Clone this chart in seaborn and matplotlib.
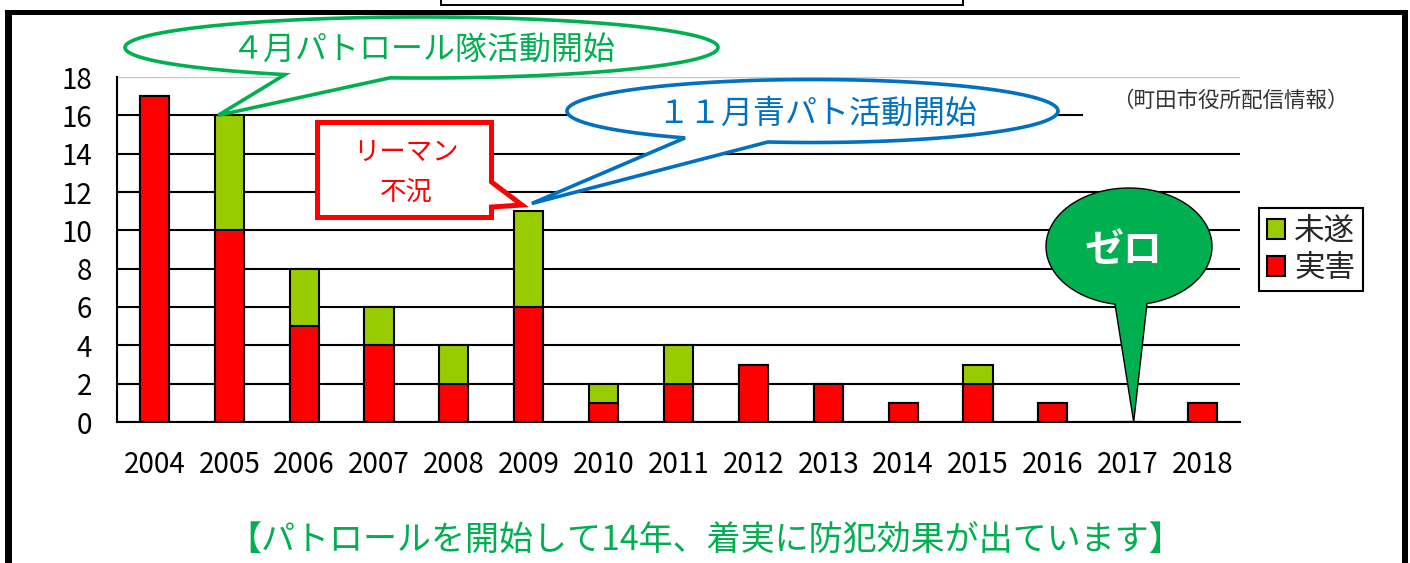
import numpy as np
import pandas as pd
import matplotlib
matplotlib.use("Agg")
import matplotlib.pyplot as plt
import seaborn as sns
from matplotlib.patches import Polygon, Rectangle
from matplotlib.transforms import Affine2D

# ---------------- data ----------------
years = ["2004", "2005", "2006", "2007", "2008", "2009", "2010", "2011",
         "2012", "2013", "2014", "2015", "2016", "2017", "2018"]
jitsugai = [17, 10, 5, 4, 2, 6, 1, 2, 3, 2, 1, 2, 1, 0, 1]   # 実害
misui = [0, 6, 3, 2, 2, 5, 1, 2, 0, 0, 0, 1, 0, 0, 0]        # 未遂
series_labels = ["未遂", "実害"]
yticks = list(range(0, 19, 2))
note_green = "４月パトロール隊活動開始"
note_blue = "１１月青パト活動開始"
note_red = ["リーマン", "不況"]
note_zero = "ゼロ"
source_text = "（町田市役所配信情報）"
bottom_text = "【パトロールを開始して14年、着実に防犯効果が出ています】"

# ---------------- style ----------------
sns.set_style("white")
plt.rcParams["font.family"] = ["Noto Sans CJK JP", "DejaVu Sans"]

RED = "#FF0000"
LGREEN = "#99CC00"
GREEN = "#00B050"
BLUE = "#0070C0"

W, H = 1410, 563
fig = plt.figure(figsize=(W / 100, H / 100), dpi=100)
fig.patch.set_facecolor("white")
ax = fig.add_axes([117 / W, (H - 422) / H, (1240 - 117) / W, (422 - 77) / H])

df = pd.DataFrame({"year": years, "実害": jitsugai, "未遂": misui})
df["total"] = df["実害"] + df["未遂"]

sns.barplot(data=df, x="year", y="total", color=LGREEN, saturation=1,
            width=0.39, edgecolor="black", linewidth=1.5, label=series_labels[0], ax=ax)
sns.barplot(data=df, x="year", y="実害", color=RED, saturation=1,
            width=0.39, edgecolor="black", linewidth=1.5, label=series_labels[1], ax=ax)

ax.set_xlim(-0.5, len(years) - 0.5)
ax.set_ylim(0, 18)
ax.set_yticks(yticks)
ax.set_xlabel("")
ax.set_ylabel("")
ax.set_axisbelow(True)
ax.yaxis.grid(True, color="black", linewidth=1.5)
ax.xaxis.grid(False)
gl = ax.get_ygridlines()
gl[-1].set_color("#c8c8c8")
gl[-1].set_linewidth(1.0)
for s in ["top", "right"]:
    ax.spines[s].set_visible(False)
for s in ["left", "bottom"]:
    ax.spines[s].set_color("black")
    ax.spines[s].set_linewidth(1.5)
ax.set_xticks(np.arange(-0.5, len(years), 1), minor=True)
ax.tick_params(axis="x", which="major", length=0, pad=20, labelsize=20, colors="black")
ax.tick_params(axis="x", which="minor", direction="in", length=7, width=1.5, color="black")
ax.tick_params(axis="y", which="major", direction="in", length=5, width=1.5,
               pad=18, labelsize=20, colors="black")
ax.set_facecolor("white")

leg = ax.legend(loc="upper left", bbox_to_anchor=(1259 / W, 1 - 208 / H),
                bbox_transform=fig.transFigure, fontsize=22, frameon=True,
                fancybox=False, framealpha=1, edgecolor="black", borderaxespad=0,
                handlelength=0.6, handleheight=0.6, handletextpad=0.3,
                borderpad=0.25, labelspacing=0.2)
leg.get_frame().set_linewidth(1.5)

# ---------------- annotation helpers (image pixel coords, y down) ----------------
pix = Affine2D().scale(1 / W, -1 / H).translate(0, 1) + fig.transFigure


def to_pix(x, y):
    d = ax.transData.transform((x, y))
    return d[0], H - d[1]


def bubble(cx, cy, a, b, xl, xr, tip, fc, ec, lw):
    tl = np.arccos(np.clip((xl - cx) / a, -1, 1))
    tr = np.arccos(np.clip((xr - cx) / a, -1, 1))
    t = np.linspace(tl, tr + 2 * np.pi, 300)
    pts = np.column_stack([cx + a * np.cos(t), cy + b * np.sin(t)])
    pts = np.vstack([pts, [tip]])
    p = Polygon(pts, closed=True, facecolor=fc, edgecolor=ec, linewidth=lw,
                transform=pix, zorder=10, joinstyle="miter")
    fig.add_artist(p)


# white box behind the source note (covers the 16 gridline end)
fig.add_artist(Rectangle((1083, 88), 160, 30, facecolor="white", edgecolor="none",
                         transform=pix, zorder=8))
fig.text(1230 / W, 1 - 101 / H, source_text, fontsize=15.5, color="#333333",
         ha="center", va="center", zorder=9)

# green bubble
bubble(421.5, 47.5, 296.5, 30.5, 285, 390, to_pix(0.85, 16), "white", GREEN, 2.6)
fig.text(424 / W, 1 - 51 / H, note_green, fontsize=23, color=GREEN,
         ha="center", va="center", zorder=11)

# blue bubble
bubble(812.5, 111, 245.5, 31.5, 685, 768, to_pix(5.04, 11.4), "white", BLUE, 2.6)
fig.text(817 / W, 1 - 114 / H, note_blue, fontsize=23, color=BLUE,
         ha="center", va="center", zorder=11)

# red rectangular callout
tipx, tipy = to_pix(4.91, 11.32)
red_pts = [(317.5, 122.5), (491.5, 122.5), (491.5, 182), (tipx, tipy),
           (491.5, 207), (491.5, 217.5), (317.5, 217.5)]
fig.add_artist(Polygon(red_pts, closed=True, facecolor="white", edgecolor=RED,
                       linewidth=3.6, transform=pix, zorder=12, joinstyle="miter"))
fig.text(406 / W, 1 - 152 / H, note_red[0], fontsize=19, color=RED,
         ha="center", va="center", zorder=13)
fig.text(406 / W, 1 - 192 / H, note_red[1], fontsize=19, color=RED,
         ha="center", va="center", zorder=13)

# zero bubble
bubble(1129, 246.5, 83, 58.5, 1115, 1147, to_pix(13.08, 0), GREEN, "black", 1.0)
fig.text(1124 / W, 1 - 250 / H, note_zero, fontsize=28, color="white",
         fontweight="bold", ha="center", va="center", zorder=11)

# bottom message
fig.text(705 / W, 1 - 541 / H, bottom_text, fontsize=24.5, color=GREEN,
         ha="center", va="center", zorder=11)

# outer frame & top title box edge
for (x0, y0, w, h) in [(5, 10, 7, 560), (5, 10, 1403, 5), (1402, 10, 6, 560)]:
    fig.add_artist(Rectangle((x0, y0), w, h, facecolor="black", edgecolor="none",
                             transform=pix, zorder=20))
fig.add_artist(Rectangle((441, -20), 522, 25, facecolor="none", edgecolor="black",
                         linewidth=1.4, transform=pix, zorder=20))

fig.savefig("out.png", dpi=100)
